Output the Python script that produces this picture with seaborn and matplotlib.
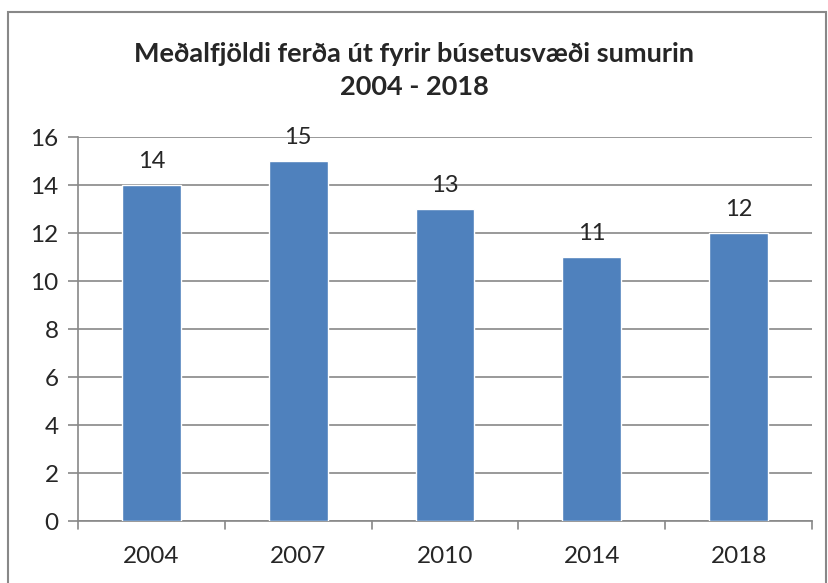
import matplotlib
matplotlib.use("Agg")
import matplotlib.pyplot as plt
import seaborn as sns
import pandas as pd
from matplotlib.patches import Rectangle

years = ["2004", "2007", "2010", "2014", "2018"]
trips = [14, 15, 13, 11, 12]
title = "Meðalfjöldi ferða út fyrir búsetusvæði sumurin\n2004 - 2018"

sns.set_style("white")
plt.rcParams["font.family"] = ["Lato", "DejaVu Sans"]

df = pd.DataFrame({"year": years, "trips": trips})

fig = plt.figure(figsize=(8.29, 5.83), dpi=100)
ax = fig.add_axes([0.0941, 0.1063, 0.8854, 0.6587])

sns.barplot(data=df, x="year", y="trips", color="#4F81BD", width=0.4,
            saturation=1, ax=ax, zorder=3)

ax.set_ylim(0, 16)
ax.set_yticks(range(0, 17, 2))
ax.set_xlim(-0.5, len(years) - 0.5)
ax.yaxis.grid(True, color="#888888", linewidth=1.2, zorder=0)
ax.set_axisbelow(True)
ax.set_xlabel("")
ax.set_ylabel("")

for s in ["top", "right"]:
    ax.spines[s].set_visible(False)
for s in ["left", "bottom"]:
    ax.spines[s].set_color("#888888")
    ax.spines[s].set_linewidth(1.2)

ax.tick_params(axis="y", length=7, width=1.2, color="#888888",
               labelsize=17.5, pad=7, left=True)
ax.tick_params(axis="x", length=0, labelsize=17.5, pad=18)

# category separator ticks on x axis
for i in range(len(years) + 1):
    ax.plot([i - 0.5, i - 0.5], [0, -0.35], color="#888888", lw=1.2,
            clip_on=False, transform=ax.transData)

for i, v in enumerate(trips):
    ax.text(i, v + 0.55, str(v), ha="center", va="bottom", fontsize=17)

fig.text(0.5, 0.879, title, ha="center", va="center", fontsize=19.5,
         fontweight="bold", linespacing=1.45)

fig.patches.append(Rectangle((8 / 829, -0.05), 818 / 829, 1.05 - 12 / 583,
                             transform=fig.transFigure, fill=False,
                             edgecolor="#888888", linewidth=1.5))

fig.savefig("out.png", dpi=100)
